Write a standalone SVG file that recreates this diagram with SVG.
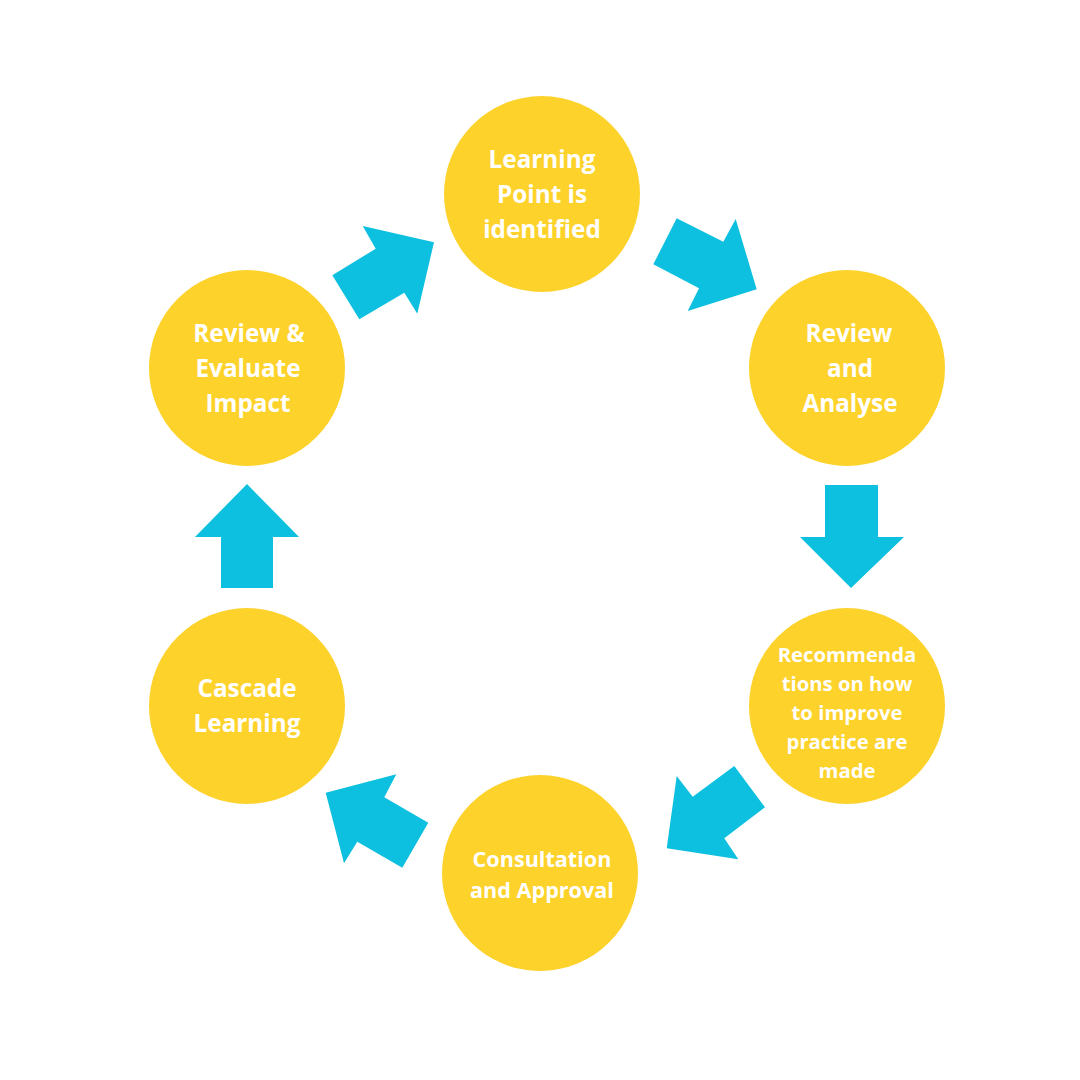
<svg xmlns="http://www.w3.org/2000/svg" width="1080" height="1080" viewBox="0 0 1080 1080">
<style>
.node circle{fill:#FDD22B}
.node text{fill:#fff;font-family:"Open Sans","Noto Sans",sans-serif;font-weight:700;text-anchor:middle}
.t24{font-size:24.3px}
.t21{font-size:21.6px}
.t20{font-size:20.3px}
.arrow{fill:#0EC0DF}
</style>
<rect width="1080" height="1080" fill="#fff"/>
<g id="connectors">
<polygon class="arrow" points="332.3,275.3 375.7,248.7 362.7,226 434,242.3 417.3,313.7 404.3,292.7 359.3,319.3"/>
<polygon class="arrow" points="676.7,218.3 723.3,241.7 735.7,219 756.7,289.3 687.7,311 699,288.3 653.3,264.3"/>
<polygon class="arrow" points="825,485 878,485 878,537 904,537 851,588 800,537 825,537"/>
<polygon class="arrow" points="734.3,766 765,807.3 724.3,838.3 738.3,859.3 666.7,848.3 676.7,776 692.7,796.7"/>
<polygon class="arrow" points="325.7,792.7 396.3,774.3 384.3,797.3 428.3,822.7 402.3,867.7 357.3,841.7 344,863.3"/>
<polygon class="arrow" points="221,588 273,588 273,537 299,537 247,484 195,537 221,537"/>
</g>
<g id="node-learning-point" class="node">
<circle cx="542" cy="194" r="98"/>
<text class="t24" x="542" y="168">Learning</text>
<text class="t24" x="542" y="203">Point is</text>
<text class="t24" x="542" y="238">identified</text>
</g>
<g id="node-review-analyse" class="node">
<circle cx="847" cy="368" r="98"/>
<text class="t24" x="849" y="342">Review</text>
<text class="t24" x="850" y="377">and</text>
<text class="t24" x="850" y="412">Analyse</text>
</g>
<g id="node-recommendations" class="node">
<circle cx="847" cy="706" r="98"/>
<text class="t20" x="847" y="662">Recommenda</text>
<text class="t20" x="847" y="691">tions on how</text>
<text class="t20" x="847" y="720">to improve</text>
<text class="t20" x="847" y="749">practice are</text>
<text class="t20" x="847" y="778">made</text>
</g>
<g id="node-consultation" class="node">
<circle cx="540" cy="873" r="98"/>
<text class="t21" x="542" y="867">Consultation</text>
<text class="t21" x="542" y="898">and Approval</text>
</g>
<g id="node-cascade" class="node">
<circle cx="247" cy="706" r="98"/>
<text class="t24" x="247" y="697">Cascade</text>
<text class="t24" x="247" y="732">Learning</text>
</g>
<g id="node-review-evaluate" class="node">
<circle cx="247" cy="368" r="98"/>
<text class="t24" x="249" y="342">Review &amp;</text>
<text class="t24" x="248" y="377">Evaluate</text>
<text class="t24" x="248" y="412">Impact</text>
</g>
</svg>
